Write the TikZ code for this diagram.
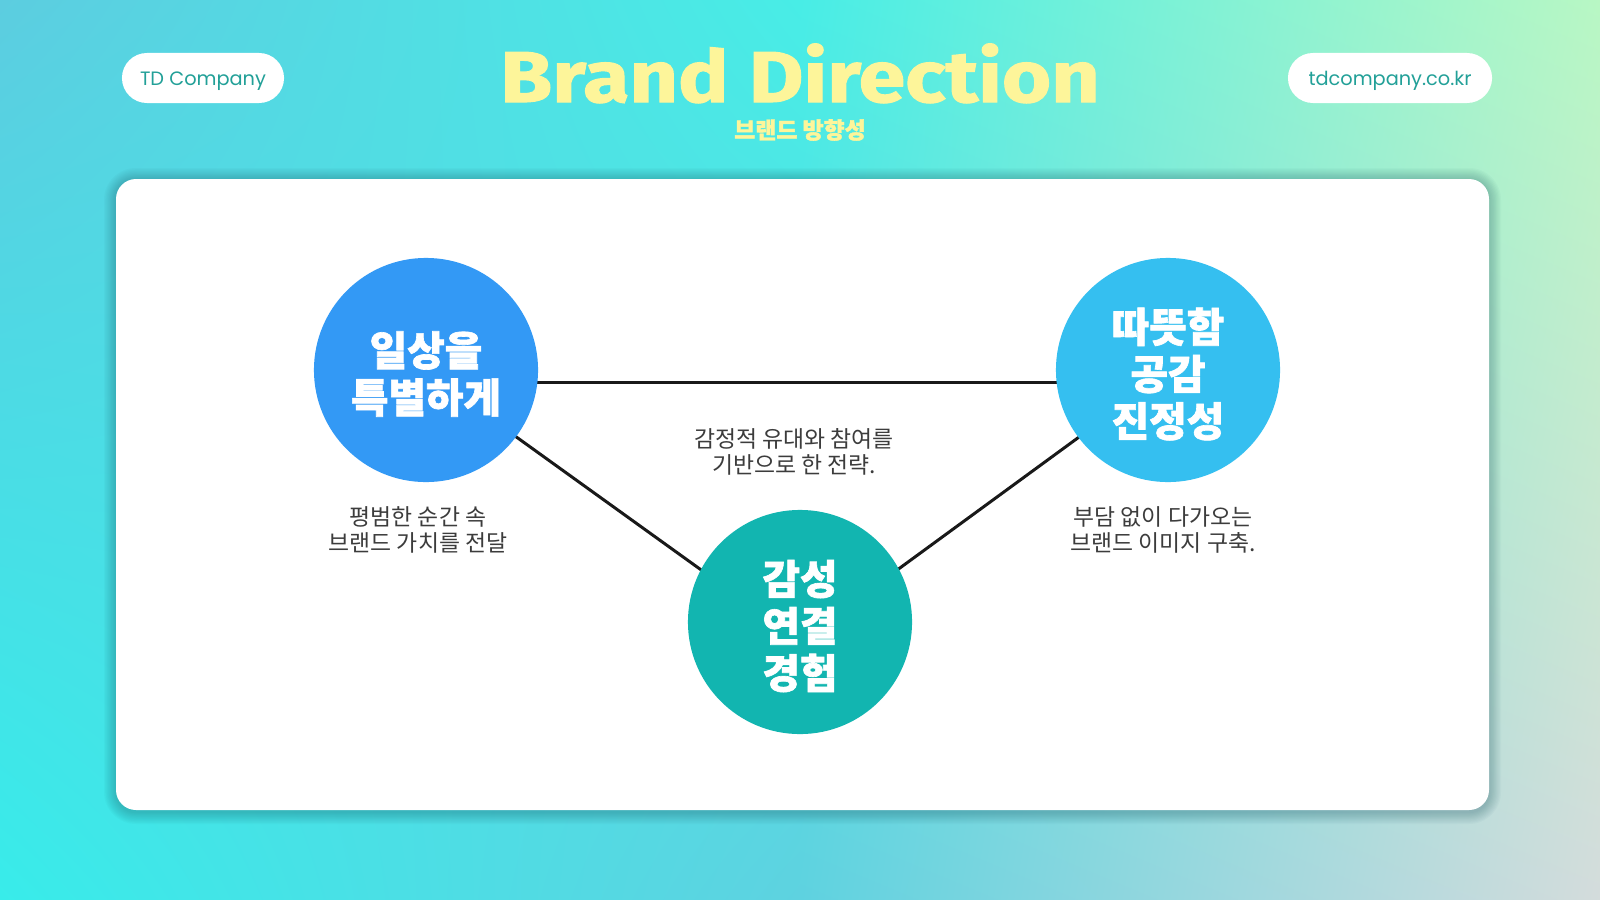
\documentclass[tikz,border=0pt]{standalone}
\usepackage{fontspec}
\usetikzlibrary{shadings}
\newfontfamily\kr{Noto Sans CJK KR}
\newfontfamily\krh{Noto Sans CJK KR}[BoldFeatures={FakeBold=1.6}]
\newfontfamily\pop{Poppins}
\newfontfamily\titlefont{Fira Sans}[BoldFeatures={FakeBold=1.5,FakeStretch=1.17}]
\definecolor{bgUL}{HTML}{5CCDE0}
\definecolor{bgUM}{HTML}{48EDE6}
\definecolor{bgUR}{HTML}{B8F7C4}
\definecolor{bgLL}{HTML}{38ECEA}
\definecolor{bgLM}{HTML}{5ED2E0}
\definecolor{bgLR}{HTML}{D4DCDC}
\definecolor{cblue}{HTML}{3399F5}
\definecolor{csky}{HTML}{35BFF0}
\definecolor{cteal}{HTML}{12B5B0}
\definecolor{pilltext}{HTML}{22A098}
\definecolor{titley}{HTML}{FDF59A}
\definecolor{desc}{HTML}{3C3C3C}
\definecolor{shadowc}{HTML}{1A5560}
\pgfdeclarelayer{fg}
\pgfsetlayers{main,fg}
\tikzset{
  pill/.style={fill=white, rounded corners=0.25cm, minimum height=0.5cm, inner sep=0pt,
    text height=4pt, text depth=0pt,
    text=pilltext, font={\pop\fontsize{5.5}{7}\selectfont}},
  bigcircle/.style={circle, minimum size=2.24cm, inner sep=0pt},
  circletext/.style={text=white, align=center, inner sep=0pt, yshift=-0.04cm,
    font={\krh\bfseries\fontsize{11.6}{13.4}\selectfont}},
  desctext/.style={align=center, text=desc, inner sep=0pt,
    font={\kr\fontsize{6.5}{7.5}\selectfont}},
  conn/.style={draw=black!90, line width=0.85pt},
}
\begin{document}
\begin{tikzpicture}[x=0.01cm,y=-0.01cm]
\useasboundingbox (0,0) rectangle (1600,900);
% background gradient
\shade[upper left=bgUL, upper right=bgUM, lower left=bgLL, lower right=bgLM] (0,0) rectangle (800.5,900);
\shade[upper left=bgUM, upper right=bgUR, lower left=bgLM, lower right=bgLR] (800,0) rectangle (1600,900);
% card shadow
\foreach \i in {1,...,10}{
  \pgfmathsetmacro\rr{0.2+\i*0.012}
  \fill[shadowc, opacity=0.03, rounded corners=\rr cm] (116-\i*1.2,179-\i*1.2+1) rectangle (1489+\i*1.2,810+\i*1.2+2);
}
% card
\fill[white, rounded corners=0.2cm] (116,179) rectangle (1489,810);
% header
\node[pill, minimum width=1.62cm] (tdc) at (203,78) {TD Company};
\node[pill, minimum width=2.04cm] (web) at (1390,78) {tdcompany.co.kr};
\node[anchor=base, inner sep=0pt, text=titley, font={\titlefont\bfseries\fontsize{20.5}{24}\selectfont}] (title) at (800,102) {Brand Direction};
\node[inner sep=0pt, text=titley, font={\krh\bfseries\fontsize{6.5}{7}\selectfont}] (sub) at (800,130) {브랜드 방향성};
% circles
\begin{pgfonlayer}{fg}
\node[bigcircle, fill=cblue] (a) at (426,370) {};
\node[bigcircle, fill=csky] (b) at (1168,370) {};
\node[bigcircle, fill=cteal] (c) at (800,622) {};
\node[circletext] (at) at (a.center) {일상을\\특별하게};
\node[circletext] (bt) at (b.center) {따뜻함\\공감\\진정성};
\node[circletext] (ct) at (c.center) {감성\\연결\\경험};
\end{pgfonlayer}
% connectors
\draw[conn] ([yshift=-0.12cm]a.center) -- ([yshift=-0.12cm]b.center);
\draw[conn] ([yshift=-0.02cm]a.center) -- ([yshift=-0.19cm]c.center);
\draw[conn] ([yshift=-0.02cm]b.center) -- ([yshift=-0.19cm]c.center);
% descriptions
\node[desctext] (da) at (418,530) {평범한 순간 속\\브랜드 가치를 전달};
\node[desctext] (dm) at (794,452) {감정적 유대와 참여를\\기반으로 한 전략.};
\node[desctext] (db) at (1163,530) {부담 없이 다가오는\\브랜드 이미지 구축.};
\end{tikzpicture}
\end{document}
